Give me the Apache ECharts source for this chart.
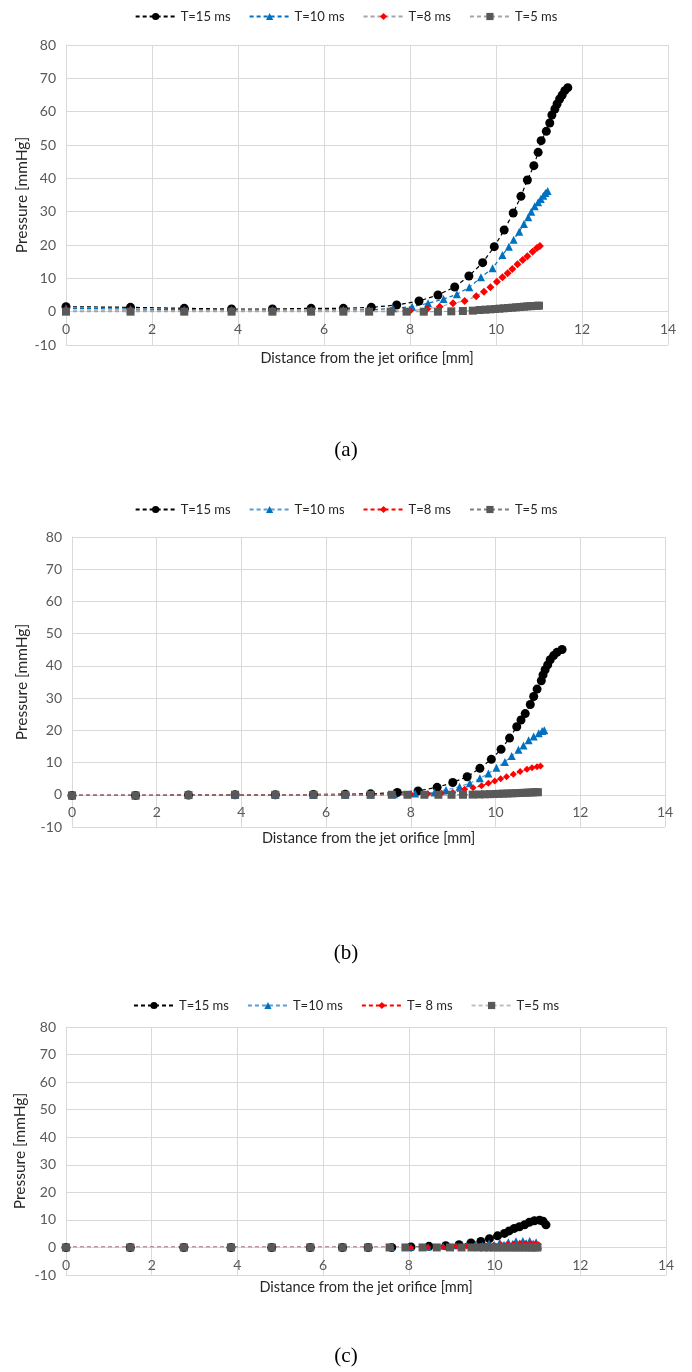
<!DOCTYPE html>
<html><head><meta charset="utf-8">
<script src="https://cdn.jsdelivr.net/npm/echarts@6/dist/echarts.min.js"></script>
<style>
html,body{margin:0;padding:0;background:#fff;}
.p{position:absolute;left:0;width:692px;}
</style></head>
<body>
<div id="pa" class="p" style="top:0;height:480px"></div>
<div id="pb" class="p" style="top:480px;height:500px"></div>
<div id="pc" class="p" style="top:980px;height:392px"></div>
<script>
// ---------- data ----------
const X_TICKS = [0, 2, 4, 6, 8, 10, 12, 14];
const Y_TICKS = [-10, 0, 10, 20, 30, 40, 50, 60, 70, 80];
const LEG_A = ['T=15 ms', 'T=10 ms', 'T=8 ms', 'T=5 ms'];
const LEG_C = ['T=15 ms', 'T=10 ms', 'T= 8 ms', 'T=5 ms'];

// panel (a)
const A15_X = [0,1.5,2.75,3.85,4.8,5.7,6.45,7.1,7.69,8.21,8.65,9.04,9.37,9.69,9.96,10.19,10.4,10.58,10.73,10.88,10.98,11.05,11.17,11.25,11.3,11.37,11.42,11.48,11.54,11.6,11.67];
const A15_Y = [1.5,1.3,1.0,0.8,0.8,1.0,1.0,1.3,2.0,3.2,5.0,7.4,10.7,14.7,19.5,24.5,29.6,34.6,39.5,43.8,47.8,51.3,54.1,56.6,59,60.8,62.3,63.8,65,66.3,67.2];
const A10_X = [0,1.5,2.75,3.85,4.8,5.7,6.45,7.05,7.6,8.05,8.42,8.78,9.09,9.38,9.65,9.92,10.15,10.3,10.41,10.54,10.65,10.75,10.82,10.9,10.98,11.04,11.1,11.15,11.2];
const A10_Y = [1.0,0.8,0.6,0.5,0.5,0.5,0.6,0.5,1.0,1.5,2.5,3.8,5.2,7.3,10.3,13,17,19.5,21.6,24,26.3,28.3,30,31.6,32.8,33.8,34.8,35.6,36.2];
const A8_X = [0,1.5,2.75,3.85,4.8,5.7,6.45,7.05,7.55,8.0,8.4,8.69,9.0,9.27,9.54,9.72,9.87,10.02,10.15,10.27,10.38,10.5,10.62,10.73,10.85,10.95,11.02];
const A8_Y = [0.5,0.4,0.3,0.3,0.3,0.3,0.3,0.2,0.2,0.3,0.8,1.5,2.5,3.2,4.6,6.0,7.3,9.0,10.3,11.5,12.8,14.2,15.5,16.6,18,19.1,19.7];
const A5_X = [0,1.5,2.75,3.85,4.8,5.7,6.45,7.05,7.55,7.92,8.32,8.65,8.96,9.23,9.46,9.62,9.75,9.87,9.98,10.08,10.18,10.28,10.38,10.47,10.56,10.65,10.73,10.81,10.88,10.95,11.0];
const A5_Y = [0,0,0,0,0,0,0,0,0,0,0,0,0.1,0.2,0.3,0.5,0.6,0.7,0.8,0.9,1.0,1.1,1.2,1.3,1.4,1.5,1.6,1.65,1.7,1.75,1.8];

// panel (b)
const B15_X = [0,1.5,2.75,3.85,4.8,5.7,6.45,7.05,7.68,8.17,8.62,8.99,9.33,9.63,9.9,10.13,10.33,10.5,10.6,10.7,10.82,10.9,10.98,11.08,11.12,11.17,11.23,11.29,11.37,11.45,11.57];
const B15_Y = [-0.2,-0.2,-0.1,0,0,0.1,0.2,0.3,0.7,1.2,2.3,3.8,5.6,8.2,11,14.1,17.6,21.1,23.2,25.2,28,30.5,32.8,35.4,37.2,38.8,40.3,41.9,43.2,44.2,45.1];
const B10_X = [0,1.5,2.75,3.85,4.8,5.7,6.45,7.05,7.6,8.1,8.56,8.83,9.15,9.39,9.63,9.83,10.02,10.22,10.38,10.54,10.66,10.78,10.9,11.02,11.1,11.15];
const B10_Y = [-0.2,-0.2,-0.1,0,0,0,0,0.1,0.2,0.4,0.7,1.5,2.5,3.6,5.1,6.6,8.4,10.2,12,14,15.3,16.9,18.1,19.1,19.8,20];
const B8_X = [0,1.5,2.75,3.85,4.8,5.7,6.45,7.05,7.55,8.0,8.4,8.72,8.99,9.27,9.47,9.67,9.83,9.98,10.12,10.26,10.42,10.58,10.74,10.86,10.98,11.06];
const B8_Y = [-0.2,-0.2,-0.1,0,0,0,0,0,0.1,0.2,0.3,0.5,0.7,1.7,2.2,2.8,3.6,4.3,5.0,5.6,6.4,7.2,7.9,8.4,8.7,8.9];
const B5_X = [0,1.5,2.75,3.85,4.8,5.7,6.45,7.05,7.55,7.92,8.32,8.65,8.96,9.23,9.46,9.62,9.75,9.87,9.98,10.08,10.18,10.28,10.38,10.47,10.56,10.65,10.73,10.81,10.88,10.95,11.0];
const B5_Y = [-0.2,-0.2,-0.1,0,0,0,0,0,0,0,0,0,0,0,0.05,0.1,0.15,0.2,0.25,0.3,0.35,0.4,0.45,0.5,0.55,0.6,0.65,0.7,0.75,0.8,0.8];

// panel (c)
const C15_X = [0,1.5,2.75,3.85,4.8,5.7,6.45,7.05,7.6,8.05,8.47,8.86,9.17,9.45,9.68,9.88,10.07,10.23,10.34,10.46,10.58,10.7,10.81,10.93,11.05,11.13,11.2];
const C15_Y = [0,0,0,0,0,0,0,0,0,0.2,0.4,0.6,1.0,1.6,2.2,3.2,4.2,5.1,6.0,6.9,7.5,8.2,9.1,9.7,9.9,9.5,8.2];
const C10_X = [0,1.5,2.75,3.85,4.8,5.7,6.45,7.05,7.6,8.05,8.45,8.8,9.1,9.35,9.55,9.72,9.87,10.0,10.12,10.22,10.32,10.42,10.5,10.58,10.66,10.74,10.82,10.9,10.97,11.03];
const C10_Y = [0,0,0,0,0,0,0,0,0,0.1,0.2,0.4,0.6,0.9,1.2,0.8,1.6,1.0,1.9,1.2,2.1,1.4,2.4,1.6,2.5,1.7,2.5,1.6,2.1,0.5];
const C8_X = [0,1.5,2.75,3.85,4.8,5.7,6.45,7.05,7.6,8.05,8.45,8.8,9.1,9.35,9.6,9.8,9.98,10.15,10.3,10.45,10.6,10.72,10.84,10.95,11.03];
const C8_Y = [0,0,0,0,0,0,0,0,0,0,0.1,0.2,0.3,0.4,0.6,0.8,1.0,1.2,1.3,1.4,1.5,1.5,1.5,1.4,1.2];
const C5_X = [0,1.5,2.75,3.85,4.8,5.7,6.45,7.05,7.55,7.92,8.32,8.65,8.96,9.23,9.46,9.62,9.75,9.87,9.98,10.08,10.18,10.28,10.38,10.47,10.56,10.65,10.73,10.81,10.88,10.95,11.0];
const C5_Y = [0,0,0,0,0,0,0,0,0,0,0,0,0,0,0,0,0,0,0,0,0,0,0,0,0,0,0,0,0,0,0];

// ---------- chart builder ----------
const FONT = 'Lato';
const Y_MIN = -10, Y_MAX = 80;
function zip(xs, ys) { return xs.map((x, i) => [x, ys[i]]); }

function ser(name, xs, ys, symbol, size, markerColor, lineColor) {
  return {
    name: name, type: 'line', data: zip(xs, ys),
    symbol: symbol, symbolSize: size, showSymbol: true,
    itemStyle: { color: markerColor },
    lineStyle: { color: lineColor, width: 1.2, type: [4, 3] },
    z: 2
  };
}

function build(id, cfg) {
  const chart = echarts.init(document.getElementById(id), null, { renderer: 'canvas' });
  // shift the category-style x axis up so it crosses the y axis at 0 (as in Excel)
  const zeroShift = -cfg.height * (0 - Y_MIN) / (Y_MAX - Y_MIN);
  chart.setOption({
    animation: false,
    backgroundColor: '#fff',
    textStyle: { fontFamily: FONT },
    legend: {
      top: cfg.legendTop, left: 'center', itemWidth: 40, itemHeight: 9, itemGap: 18,
      textStyle: { fontFamily: FONT, fontSize: 13, color: '#262626' },
      data: cfg.legend
    },
    grid: { left: cfg.left, top: cfg.top, width: cfg.width, height: cfg.height },
    xAxis: {
      type: 'value', min: 0, max: 14, interval: 2, position: 'bottom', offset: zeroShift,
      name: 'Distance from the jet orifice [mm]', nameLocation: 'middle', nameGap: cfg.xNameGap,
      nameMoveOverlap: false,
      nameTextStyle: { fontFamily: FONT, fontSize: 14.5, color: '#262626' },
      axisLine: { show: true, onZero: false, lineStyle: { color: '#d9d9d9', width: 1 } },
      axisTick: { show: false },
      axisLabel: { fontFamily: FONT, fontSize: 14, color: '#595959', margin: 11,
        formatter: v => X_TICKS.includes(v) ? String(v) : '' },
      splitLine: { show: true, lineStyle: { color: '#d9d9d9', width: 1 } }
    },
    yAxis: {
      type: 'value', min: Y_MIN, max: Y_MAX, interval: 10,
      name: 'Pressure [mmHg]', nameLocation: 'middle', nameGap: cfg.yNameGap,
      nameMoveOverlap: false,
      nameTextStyle: { fontFamily: FONT, fontSize: 15.5, color: '#262626' },
      axisLine: { show: true, lineStyle: { color: '#d9d9d9', width: 1 } },
      axisTick: { show: false },
      axisLabel: { fontFamily: FONT, fontSize: 14, color: '#595959', margin: 10,
        formatter: v => Y_TICKS.includes(v) ? String(v) : '' },
      splitLine: { show: true, lineStyle: { color: '#d9d9d9', width: 1 } }
    },
    graphic: [{
      type: 'text', left: 'center', top: cfg.labelTop,
      style: { text: cfg.label, fontFamily: 'Liberation Serif', fontSize: 21, fill: '#000' }
    }],
    series: cfg.series
  });
}

build('pa', {
  legendTop: 5, left: 66, top: 45, width: 602, height: 300,
  xNameGap: 39, yNameGap: 36, label: '(a)', labelTop: 440,
  legend: LEG_A,
  series: [
    ser(LEG_A[0], A15_X, A15_Y, 'circle', 9, '#000000', '#000000'),
    ser(LEG_A[1], A10_X, A10_Y, 'triangle', 8, '#0070C0', '#0070C0'),
    ser(LEG_A[2], A8_X, A8_Y, 'diamond', 8, '#FF0000', '#A5A5A5'),
    ser(LEG_A[3], A5_X, A5_Y, 'rect', 8, '#595959', '#A5A5A5')
  ]
});

build('pb', {
  legendTop: 18, left: 72, top: 57, width: 593, height: 290,
  xNameGap: 36, yNameGap: 42, label: '(b)', labelTop: 463,
  legend: LEG_A,
  series: [
    ser(LEG_A[0], B15_X, B15_Y, 'circle', 9, '#000000', '#000000'),
    ser(LEG_A[1], B10_X, B10_Y, 'triangle', 8, '#0070C0', '#5B9BD5'),
    ser(LEG_A[2], B8_X, B8_Y, 'diamond', 7, '#FF0000', '#FF0000'),
    ser(LEG_A[3], B5_X, B5_Y, 'rect', 8, '#595959', '#7F7F7F')
  ]
});

build('pc', {
  legendTop: 14, left: 66, top: 47, width: 600, height: 248,
  xNameGap: 32, yNameGap: 38, label: '(c)', labelTop: 366,
  legend: LEG_C,
  series: [
    ser(LEG_C[0], C15_X, C15_Y, 'circle', 9, '#000000', '#000000'),
    ser(LEG_C[1], C10_X, C10_Y, 'triangle', 7, '#0070C0', '#5B9BD5'),
    ser(LEG_C[2], C8_X, C8_Y, 'diamond', 6, '#FF0000', '#FF0000'),
    ser(LEG_C[3], C5_X, C5_Y, 'rect', 8, '#595959', '#BFBFBF')
  ]
});
</script>
</body></html>
